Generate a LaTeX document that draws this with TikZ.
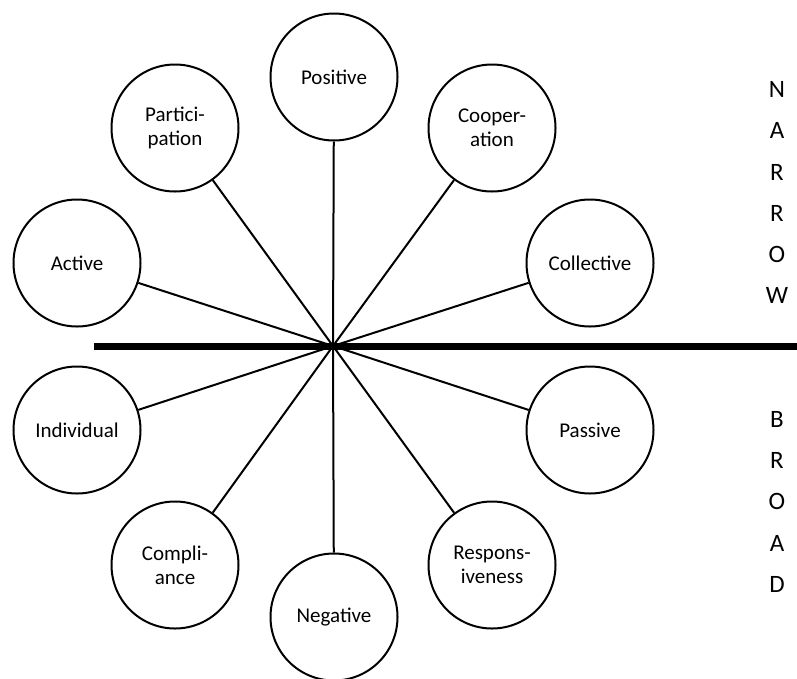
\documentclass[tikz,border=0pt]{standalone}
\usepackage{fontspec}
\setmainfont{Carlito}
\begin{document}
\begin{tikzpicture}[x=1pt,y=-1pt,
  bubble/.style={circle,draw=black,line width=2pt,minimum size=127pt,inner sep=0pt,align=center,font=\fontsize{21}{24}\selectfont},
  spoke/.style={line width=2pt},
  side/.style={font=\fontsize{25}{25}\selectfont,inner sep=0pt}]
\useasboundingbox (0,0) rectangle (797,678);
\clip (0,0) rectangle (797,678);
\coordinate (hub) at (333,346);
\coordinate (lineL) at (94,346);
\coordinate (lineR) at (797,346);
\node[bubble] (pos) at (334,77) {Positive};
\node[bubble] (par) at (175,128) {Partici-\\pation};
\node[bubble] (coo) at (492,128) {Cooper-\\ation};
\node[bubble] (act) at (77,263) {Active};
\node[bubble] (col) at (590,263) {Collective};
\node[bubble] (ind) at (77,430) {Individual};
\node[bubble] (pas) at (590,430) {Passive};
\node[bubble] (com) at (175,565) {Compli-\\ance};
\node[bubble] (res) at (492,565) {Respons-\\iveness};
\node[bubble] (neg) at (334,617) {Negative};
\foreach \n in {pos,par,coo,act,col,ind,pas,com,res,neg}
  \draw[spoke] (hub) -- (\n);
\draw[line width=7pt] (lineL) -- (lineR);
\node[side] (n1) at (777,89) {N};
\node[side] (n2) at (777,130) {A};
\node[side] (n3) at (777,172) {R};
\node[side] (n4) at (777,213) {R};
\node[side] (n5) at (777,254) {O};
\node[side] (n6) at (777,295) {W};
\node[side] (b1) at (777,419) {B};
\node[side] (b2) at (777,460) {R};
\node[side] (b3) at (777,501) {O};
\node[side] (b4) at (777,543) {A};
\node[side] (b5) at (777,584) {D};
\end{tikzpicture}
\end{document}
